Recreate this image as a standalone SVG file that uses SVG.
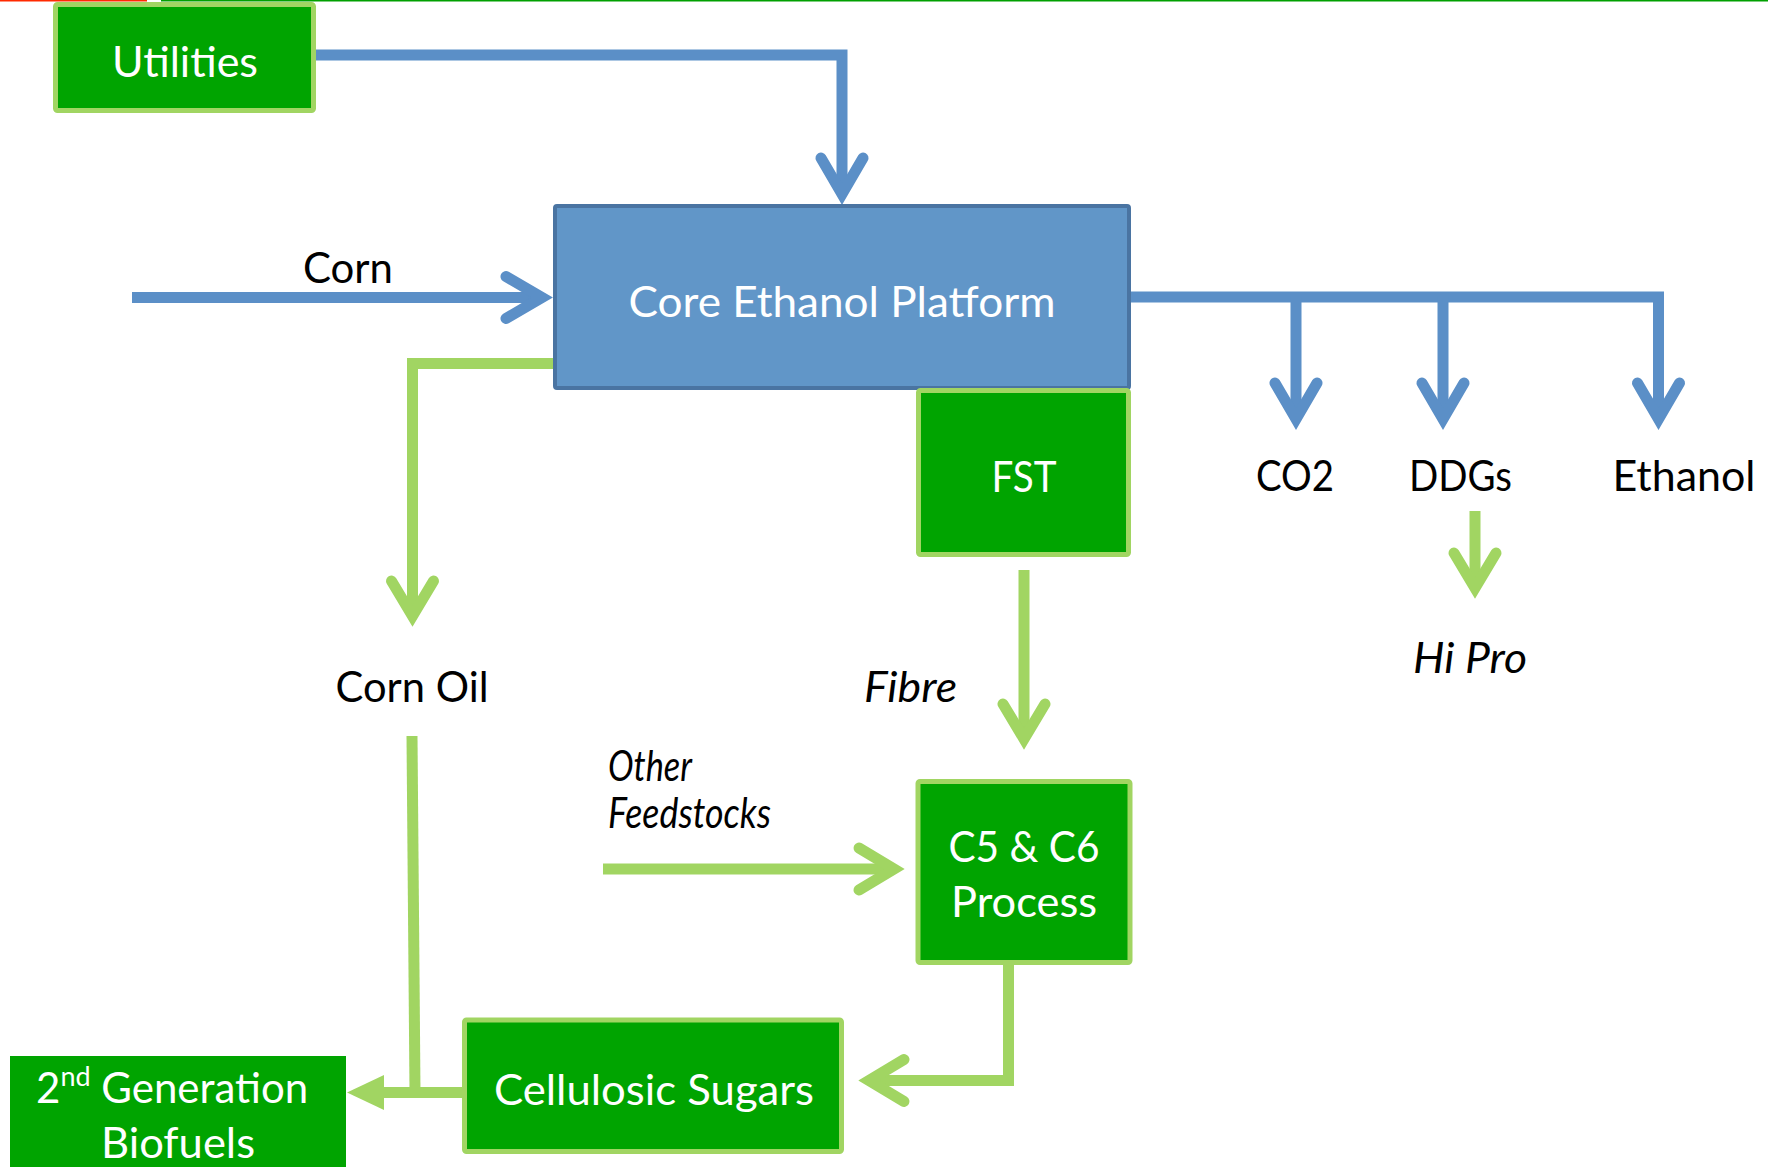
<svg xmlns="http://www.w3.org/2000/svg" width="1768" height="1167" viewBox="0 0 1768 1167">
<style>
  .lbl { font-family: Lato, "Open Sans", "Liberation Sans", sans-serif; font-size: 42px; fill: #000; }
  .wht { font-family: Lato, "Open Sans", "Liberation Sans", sans-serif; font-size: 42px; fill: #fff; }
  .it { font-style: italic; }
  .gbox { fill: #00A400; stroke: #A1D562; stroke-width: 5; }
  .bline { fill: none; stroke: #5B8FC7; stroke-width: 11; stroke-linejoin: miter; }
  .gline { fill: none; stroke: #A1D562; stroke-width: 11; stroke-linejoin: miter; }
</style>
<defs>
  <marker id="ab" markerUnits="userSpaceOnUse" orient="auto" refX="0" refY="0" markerWidth="80" markerHeight="80" overflow="visible">
    <path d="M -36 -21 L 0 0 L -36 21" fill="none" stroke="#5B8FC7" stroke-width="11" stroke-linecap="round" stroke-linejoin="miter"/>
  </marker>
  <marker id="ag" markerUnits="userSpaceOnUse" orient="auto" refX="0" refY="0" markerWidth="80" markerHeight="80" overflow="visible">
    <path d="M -35 -21 L 0 0 L -35 21" fill="none" stroke="#A1D562" stroke-width="11" stroke-linecap="round" stroke-linejoin="miter"/>
  </marker>
</defs>
<rect x="0" y="0" width="1768" height="1167" fill="#fff"/>
<line x1="0" y1="0.8" x2="147" y2="0.8" stroke="#FF2A00" stroke-width="1.6"/>
<line x1="161" y1="0.8" x2="1768" y2="0.8" stroke="#00A000" stroke-width="1.6"/>

<g id="connectors">
  <path class="bline" d="M 316 55 H 842 V 194" marker-end="url(#ab)"/>
  <path class="bline" d="M 132 297.5 H 542" marker-end="url(#ab)"/>
  <path class="bline" d="M 1131 297 H 1658.5 V 419" marker-end="url(#ab)"/>
  <path class="bline" d="M 1296 297 V 419" marker-end="url(#ab)"/>
  <path class="bline" d="M 1443 297 V 419" marker-end="url(#ab)"/>
  <path class="gline" d="M 553 363.5 H 412.5 V 616" marker-end="url(#ag)"/>
  <path class="gline" d="M 1024 570 V 739" marker-end="url(#ag)"/>
  <path class="gline" d="M 603 869 H 894" stroke-width="12" marker-end="url(#ag)"/>
  <path class="gline" d="M 1475 511 V 588" marker-end="url(#ag)"/>
  <path class="gline" d="M 1008.5 960 V 1080.5 H 869" marker-end="url(#ag)"/>
  <path class="gline" d="M 412 736 L 415 1092"/>
  <path class="gline" d="M 462 1092.5 H 380" stroke-width="12"/>
  <polygon points="347,1092.5 384,1075 384,1110" fill="#A1D562"/>
</g>

<g id="utilities">
  <rect class="gbox" x="55.5" y="4.5" width="258" height="106" rx="2"/>
  <text class="wht" x="185" y="77" text-anchor="middle" textLength="146" lengthAdjust="spacingAndGlyphs">Utilities</text>
</g>
<g id="core">
  <rect x="555" y="206" width="574" height="182" fill="#6196C8" stroke="#4A74A2" stroke-width="4" rx="2"/>
  <text class="wht" x="842" y="317" text-anchor="middle" textLength="427" lengthAdjust="spacingAndGlyphs">Core Ethanol Platform</text>
</g>
<g id="corn-label">
  <text class="lbl" x="348" y="283" text-anchor="middle" textLength="90" lengthAdjust="spacingAndGlyphs">Corn</text>
</g>
<g id="fst">
  <rect class="gbox" x="918.5" y="390.5" width="210" height="164" rx="2"/>
  <text class="wht" x="1024" y="492" text-anchor="middle" textLength="65" lengthAdjust="spacingAndGlyphs">FST</text>
</g>
<g id="co2"><text class="lbl" x="1295" y="491" text-anchor="middle" textLength="78" lengthAdjust="spacingAndGlyphs">CO2</text></g>
<g id="ddgs"><text class="lbl" x="1460.5" y="491" text-anchor="middle" textLength="103" lengthAdjust="spacingAndGlyphs">DDGs</text></g>
<g id="ethanol"><text class="lbl" x="1684" y="491" text-anchor="middle" textLength="143" lengthAdjust="spacingAndGlyphs">Ethanol</text></g>
<g id="hipro"><text class="lbl it" x="1470" y="673" text-anchor="middle" textLength="114" lengthAdjust="spacingAndGlyphs">Hi Pro</text></g>
<g id="cornoil"><text class="lbl" x="412" y="702" text-anchor="middle" textLength="153" lengthAdjust="spacingAndGlyphs">Corn Oil</text></g>
<g id="fibre"><text class="lbl it" x="910.5" y="702" text-anchor="middle" textLength="93" lengthAdjust="spacingAndGlyphs">Fibre</text></g>
<g id="other-feedstocks">
  <text class="lbl it" x="608" y="781" font-size="28" textLength="84" lengthAdjust="spacingAndGlyphs">Other</text>
  <text class="lbl it" x="608" y="828" font-size="28" textLength="163" lengthAdjust="spacingAndGlyphs">Feedstocks</text>
</g>
<g id="c5c6">
  <rect class="gbox" x="918" y="781.5" width="212" height="181" rx="2"/>
  <text class="wht" x="1024" y="862" text-anchor="middle" textLength="151" lengthAdjust="spacingAndGlyphs">C5 &amp; C6</text>
  <text class="wht" x="1024" y="917" text-anchor="middle" textLength="146" lengthAdjust="spacingAndGlyphs">Process</text>
</g>
<g id="cellulosic">
  <rect class="gbox" x="464.5" y="1020" width="377" height="131.5" rx="2"/>
  <text class="wht" x="654" y="1105" text-anchor="middle" textLength="320" lengthAdjust="spacingAndGlyphs">Cellulosic Sugars</text>
</g>
<g id="second-gen">
  <rect x="10" y="1056" width="336" height="120" fill="#00A400"/>
  <text class="wht" x="36" y="1103" font-size="43">2<tspan font-size="27" dy="-17">nd</tspan><tspan dy="17"> Generation</tspan></text>
  <text class="wht" x="178" y="1158" font-size="42" text-anchor="middle" textLength="154" lengthAdjust="spacingAndGlyphs">Biofuels</text>
</g>
</svg>
